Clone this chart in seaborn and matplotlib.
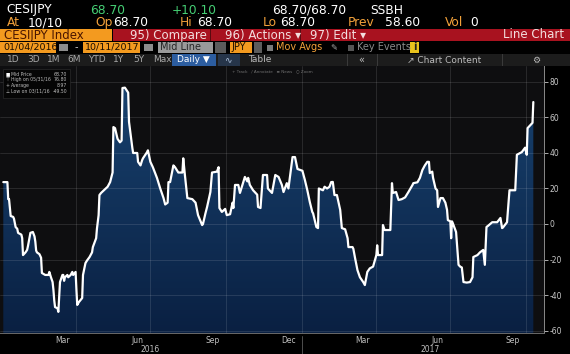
#!/usr/bin/env python3
"""Bloomberg style line chart of the Citi Economic Surprise Index, Japan (CESIJPY)."""

import matplotlib
matplotlib.use("Agg")
import matplotlib.pyplot as plt
import matplotlib.dates as mdates
import matplotlib.transforms as mtransforms
from matplotlib.colors import LinearSegmentedColormap
from matplotlib.patches import Rectangle
import numpy as np
import pandas as pd
import seaborn as sns

####################################################################################################
# DATA

dates = [
    "2016-01-04", "2016-01-09", "2016-01-10", "2016-01-11", "2016-01-13", "2016-01-16", "2016-01-17", "2016-01-19", "2016-01-21", "2016-01-22",
    "2016-01-26", "2016-01-27", "2016-01-28", "2016-01-31", "2016-02-02", "2016-02-03", "2016-02-06", "2016-02-09", "2016-02-11", "2016-02-12",
    "2016-02-13", "2016-02-14", "2016-02-17", "2016-02-19", "2016-02-20", "2016-02-24", "2016-02-28", "2016-02-29", "2016-03-02", "2016-03-04",
    "2016-03-05", "2016-03-06", "2016-03-07", "2016-03-10", "2016-03-11", "2016-03-13", "2016-03-16", "2016-03-17", "2016-03-18", "2016-03-19",
    "2016-03-22", "2016-03-23", "2016-03-26", "2016-03-28", "2016-03-29", "2016-04-01", "2016-04-02", "2016-04-03", "2016-04-05", "2016-04-09",
    "2016-04-10", "2016-04-13", "2016-04-15", "2016-04-18", "2016-04-21", "2016-04-22", "2016-04-26", "2016-04-27", "2016-04-29", "2016-04-30",
    "2016-05-02", "2016-05-05", "2016-05-10", "2016-05-13", "2016-05-16", "2016-05-17", "2016-05-19", "2016-05-22", "2016-05-25", "2016-05-27",
    "2016-05-28", "2016-05-31", "2016-06-04", "2016-06-05", "2016-06-09", "2016-06-10", "2016-06-15", "2016-06-16", "2016-06-19", "2016-06-21",
    "2016-06-22", "2016-06-27", "2016-06-28", "2016-07-01", "2016-07-04", "2016-07-09", "2016-07-13", "2016-07-17", "2016-07-19", "2016-07-22",
    "2016-07-23", "2016-07-25", "2016-07-29", "2016-07-31", "2016-08-04", "2016-08-09", "2016-08-10", "2016-08-12", "2016-08-15", "2016-08-21",
    "2016-08-25", "2016-08-28", "2016-09-02", "2016-09-03", "2016-09-06", "2016-09-08", "2016-09-12", "2016-09-14", "2016-09-20", "2016-09-22",
    "2016-09-23", "2016-09-26", "2016-09-30", "2016-10-02", "2016-10-06", "2016-10-09", "2016-10-10", "2016-10-12", "2016-10-16", "2016-10-18",
    "2016-10-21", "2016-10-24", "2016-10-27", "2016-10-28", "2016-10-30", "2016-11-03", "2016-11-08", "2016-11-09", "2016-11-12", "2016-11-15",
    "2016-11-20", "2016-11-21", "2016-11-26", "2016-11-30", "2016-12-04", "2016-12-08", "2016-12-10", "2016-12-14", "2016-12-16", "2016-12-21",
    "2016-12-24", "2016-12-27", "2017-01-02", "2017-01-05", "2017-01-08", "2017-01-11", "2017-01-14", "2017-01-15", "2017-01-19", "2017-01-21",
    "2017-01-22", "2017-01-27", "2017-01-29", "2017-02-01", "2017-02-04", "2017-02-06", "2017-02-08", "2017-02-10", "2017-02-13", "2017-02-17",
    "2017-02-19", "2017-02-23", "2017-02-26", "2017-02-27", "2017-03-04", "2017-03-05", "2017-03-07", "2017-03-10", "2017-03-13", "2017-03-17",
    "2017-03-19", "2017-03-22", "2017-03-25", "2017-03-29", "2017-04-02", "2017-04-03", "2017-04-04", "2017-04-09", "2017-04-10", "2017-04-12",
    "2017-04-19", "2017-04-21", "2017-04-22", "2017-04-26", "2017-04-29", "2017-05-03", "2017-05-07", "2017-05-11", "2017-05-16", "2017-05-17",
    "2017-05-22", "2017-05-25", "2017-05-28", "2017-05-31", "2017-06-03", "2017-06-05", "2017-06-06", "2017-06-09", "2017-06-10", "2017-06-13",
    "2017-06-15", "2017-06-16", "2017-06-19", "2017-06-22", "2017-06-25", "2017-06-27", "2017-06-28", "2017-07-01", "2017-07-02", "2017-07-03",
    "2017-07-04", "2017-07-08", "2017-07-11", "2017-07-13", "2017-07-15", "2017-07-17", "2017-07-21", "2017-07-25", "2017-07-28", "2017-07-29",
    "2017-08-03", "2017-08-06", "2017-08-10", "2017-08-12", "2017-08-14", "2017-08-16", "2017-08-21", "2017-08-27", "2017-08-31", "2017-09-02",
    "2017-09-03", "2017-09-08", "2017-09-10", "2017-09-11", "2017-09-18", "2017-09-20", "2017-09-26", "2017-09-30", "2017-10-02", "2017-10-03",
    "2017-10-07", "2017-10-09", "2017-10-10",
]

values = [
    23.6, 23.6, 14, 14, 4.5, 4, 3, -1.7, -2.7, -5,
    -6, -8, -17.5, -16, -14.6, -12.5, -5, -4.5, -7, -10,
    -15, -16, -17, -19, -27.6, -28.7, -28.7, -27, -30, -32.7,
    -37, -43, -46.8, -47.5, -49.5, -32.7, -28.7, -28.7, -32, -30,
    -28.7, -30, -28.7, -27, -28.7, -27, -37, -45.6, -44, -41.7,
    -28.7, -22, -20.5, -18.6, -16, -13, -8, -2.5, 5, 16.3,
    17.5, 18.8, 21, 23.6, 29, 54.6, 54, 48, 46, 47,
    76.6, 76.8, 74, 57.5, 43, 40, 40, 35, 33, 36,
    37, 40.5, 41.5, 35, 32, 26, 20, 14.6, 11, 12,
    23.6, 23.6, 33, 32, 29, 29, 37, 27.6, 14.6, 14,
    12, 5, -0.6, 0, 6, 9.6, 18, 29, 29.5, 32,
    9, 6.8, 8.5, 5, 5.5, 12, 9, 22, 22, 17.5,
    22, 26.5, 24, 26, 22, 19, 16.5, 9.6, 9, 27.6,
    27.6, 20, 17.5, 27.6, 26.5, 22, 18, 23, 20, 37.7,
    37.7, 31, 30, 24.8, 19, 12.4, 6.8, 6, -1.7, -2.3,
    20, 19, 21, 20, 21, 23.6, 23.7, 16.3, 16.3, 7.9,
    -2.3, -3, -8, -13, -13, -14, -19, -26, -30, -32.7,
    -34.4, -27, -25, -24, -17.5, -12, -17.5, -17.5, -0.6, -3.4,
    -3.4, 23, 17.5, 18, 13.5, 14, 15, 18, 22, 23,
    23.5, 26, 30.4, 33, 35, 35, 28.7, 29.5, 26, 20,
    19, 9.6, 14.6, 14.6, 12, 8, 2.2, 1.5, -8, 1.5,
    0.5, -4.5, -23, -24, -24.5, -32.7, -33, -32.7, -30, -18.6,
    -17.5, -16, -14.6, -23, -1.7, -1, 1, 1, 3.4, -2.3,
    -2, 1, 13.5, 19, 19, 39, 40.5, 43, 39, 54,
    56, 57, 68.7,
]

last_value = "68.70"

# axis ticks / labels
y_ticks = [-60, -40, -20, 0, 20, 40, 60, 80]
month_tick_dates = ["2016-03-16", "2016-06-15", "2016-09-15", "2016-12-16",
                    "2017-03-16", "2017-06-15", "2017-09-15"]
month_labels = ["Mar", "Jun", "Sep", "Dec", "Mar", "Jun", "Sep"]
year_label_dates = ["2016-07-01", "2017-06-07"]
year_labels = ["2016", "2017"]
year_split = "2017-01-01"
grid_dates = ["2016-04-01", "2016-07-01", "2016-10-01", "2017-01-01",
              "2017-04-01", "2017-07-01", "2017-10-01"]

# legend box
legend_keys = ["Mid Price", "High on 05/31/16", "Average", "Low on 03/11/16"]
legend_marks = ["\u25a0", "\u22a4", "+", "\u22a5"]
legend_vals = ["68.70", "76.80", "8.97", "-49.50"]

# colours
BG = "#000000"
PLOT_BG = "#0e0e10"
AMBER = "#f2a13a"
GREEN = "#45cf74"
RED_BAR = "#a8121f"
ORANGE_BOX = "#f39a1f"

####################################################################################################

sns.set_theme(style="dark")
plt.rcParams["font.family"] = ["DejaVu Sans"]
plt.rcParams["axes.unicode_minus"] = False

W, H = 570, 354
fig = plt.figure(figsize=(W / 100, H / 100), dpi=100, facecolor=BG)


def fx(x):
    return x / W


def fy(y):
    return 1 - y / H


def box(x0, y0, x1, y1, color, z=1, edge=None):
    fig.add_artist(Rectangle((fx(x0), fy(y1)), (x1 - x0) / W, (y1 - y0) / H,
                             transform=fig.transFigure, facecolor=color,
                             edgecolor=edge if edge else "none", lw=0.5, zorder=z))


def label(x, y, s, color, size, ha="left", weight="normal", z=5):
    fig.text(fx(x), fy(y), s, color=color, fontsize=size, ha=ha, va="center",
             weight=weight, zorder=z)


# HEADER ROW 1 + 2
label(6, 10, "CESIJPY", "white", 8.8)
label(90, 10, "68.70", GREEN, 8.8)
label(172, 10, "+10.10", GREEN, 8.8)
label(272, 10, "68.70/68.70", "white", 8.8)
label(370, 10, "SSBH", "white", 8.8)

for x, s, c in [(7, "At", AMBER), (28, "10/10", "white"), (95, "Op", AMBER), (113, "68.70", "white"),
                (180, "Hi", AMBER), (197, "68.70", "white"), (263, "Lo", AMBER), (280, "68.70", "white"),
                (348, "Prev", AMBER), (385, "58.60", "white"), (445, "Vol", AMBER), (470, "0", "white")]:
    label(x, 22.5, s, c, 8.8)

# HEADER ROW 3 (red command bar)
box(0, 29, 112, 41, ORANGE_BOX)
box(113, 29, 570, 41, RED_BAR)
for xs in [210, 300]:
    box(xs, 29, xs + 1, 41, "#5a0a10", z=2)
label(4, 35, "CESIJPY Index", "#4a1500", 8.5)
label(130, 35, "95) Compare", "#f3dede", 8.5)
label(225, 35, "96) Actions \u25be", "#f3dede", 8.5)
label(310, 35, "97) Edit \u25be", "#f3dede", 8.5)
label(564, 35, "Line Chart", "#f3dede", 8.5, ha="right")

# HEADER ROW 4 (date range / options)
box(0, 42, 56, 53, ORANGE_BOX)
box(59, 44, 68, 51, "#8c8c8c")
label(75, 47.5, "-", "#cccccc", 7)
box(83, 42, 140, 53, ORANGE_BOX)
box(144, 44, 153, 51, "#8c8c8c")
box(158, 42, 213, 53, "#9a9a9a")
box(215, 42, 226, 53, "#5c5c5c")
box(230, 42, 252, 53, ORANGE_BOX)
box(254, 42, 262, 53, "#5c5c5c")
box(267, 45, 273, 51, "#7a7a7a")
box(348, 45, 354, 51, "#555555")
box(410, 42, 419, 53, "#e8c21c")
label(3, 47.5, "01/04/2016", "#1a0d00", 6.8)
label(85, 47.5, "10/11/2017", "#1a0d00", 6.8)
label(160, 47.5, "Mid Line", "#262626", 7)
label(231, 47.5, "JPY", "#1a0d00", 7)
label(276, 47.5, "Mov Avgs", AMBER, 7)
label(330, 47.5, "\u270e", "#aaaaaa", 6)
label(357, 47.5, "Key Events", "#8a8a8a", 7)
label(414.5, 47.5, "i", "#222222", 7, ha="center", weight="bold")

# HEADER ROW 5 (period buttons)
box(0, 54, 570, 66, "#1c1c1c")
box(172, 54, 216, 66, "#2c5da0")
box(218, 54, 240, 66, "#26354a")
box(347, 54, 348, 66, "#3a3a3a", z=2)
box(377, 54, 378, 66, "#3a3a3a", z=2)
box(502, 54, 503, 66, "#3a3a3a", z=2)
for x, s in [(7, "1D"), (27, "3D"), (47, "1M"), (67, "6M"), (88, "YTD"), (113, "1Y"), (133, "5Y"), (153, "Max")]:
    label(x, 60, s, "#a8a8a8", 6.5)
label(177, 60, "Daily \u25bc", "white", 6.5)
label(224, 60, "\u223f", "#b0c4de", 6.5)
label(248, 60, "Table", "#bbbbbb", 6.5)
label(358, 60, "\u00ab", "#bbbbbb", 7)
label(407, 60, "\u2197 Chart Content", "#bbbbbb", 6.5)
label(536, 60, "\u2699", "#bbbbbb", 6.5, ha="center")

# CHART
df = pd.DataFrame({"date": pd.to_datetime(dates), "value": values})
y_low, y_high = -61.4, 89
x_low, x_high = pd.Timestamp("2015-12-31"), pd.Timestamp("2017-10-23")

ax = fig.add_axes([0, fy(333), fx(544), (333 - 66) / H])
ax.set_facecolor(PLOT_BG)

# gradient area under the line
poly = ax.fill_between(df["date"], df["value"], y_low, facecolor="none", lw=0)
cmap = LinearSegmentedColormap.from_list("fill", ["#0a2042", "#18426f"])
grad = np.linspace(1, 0, 256).reshape(-1, 1)
im = ax.imshow(grad, cmap=cmap, aspect="auto", origin="upper", zorder=1,
               extent=[mdates.date2num(df["date"].min()), mdates.date2num(df["date"].max()), y_low, 80])
im.set_clip_path(poly.get_paths()[0], transform=ax.transData)

sns.lineplot(data=df, x="date", y="value", ax=ax, color="white", lw=1.6, zorder=4)

# grid
for v in y_ticks:
    ax.axhline(v, color="white", alpha=0.13, lw=0.6, zorder=2)
for d in grid_dates:
    ax.axvline(pd.Timestamp(d), color="white", alpha=0.13, lw=0.6, zorder=2)

ax.set_xlim(x_low, x_high)
ax.set_ylim(y_low, y_high)
ax.set_xlabel(None)
ax.set_ylabel(None)
ax.set_title(None)

# y axis on the right
ax.yaxis.tick_right()
ax.set_yticks(y_ticks)
ax.set_yticklabels([str(v) for v in y_ticks])
ax.tick_params(axis="y", colors="#c8c8c8", labelsize=5.5, length=3, width=0.6, pad=1, direction="out")
for side in ["top", "left"]:
    ax.spines[side].set_visible(False)
ax.spines["right"].set_color("#8a8a8a")
ax.spines["right"].set_linewidth(0.7)
ax.spines["bottom"].set_color("#6a6a6a")
ax.spines["bottom"].set_linewidth(0.7)

# x axis: month labels mid-month, monthly minor ticks
ax.set_xticks(pd.to_datetime(month_tick_dates))
ax.set_xticklabels(month_labels)
ax.tick_params(axis="x", which="major", colors="#c0c0c0", labelsize=5.5, length=0, pad=2.5)
ax.xaxis.set_minor_locator(mdates.MonthLocator())
ax.tick_params(axis="x", which="minor", color="#9a9a9a", length=2, width=0.5, direction="in")

trans = mtransforms.blended_transform_factory(ax.transData, ax.transAxes)
for d, s in zip(year_label_dates, year_labels):
    ax.text(pd.Timestamp(d), -0.06, s, transform=trans, color="#c0c0c0", fontsize=5.5,
            ha="center", va="center", clip_on=False)
ax.plot([pd.Timestamp(year_split)] * 2, [-0.01, -0.08], transform=trans, color="#5a5a5a",
        lw=0.6, clip_on=False)

# last value tag
ax.annotate(last_value, xy=(1.0, float(last_value)), xycoords=trans, xytext=(4, 0),
            textcoords="offset points", fontsize=5.5, color="black", va="center", ha="left",
            bbox=dict(boxstyle="square,pad=0.15", fc="white", ec="none"), annotation_clip=False)

# legend box (top-left)
box(3, 69, 70, 98, "#050505", z=6, edge="#2a2a2a")
for i, (m, k, v) in enumerate(zip(legend_marks, legend_keys, legend_vals)):
    yy = 74 + i * 5.8
    label(6, yy, m, "white" if i == 0 else "#bbbbbb", 3.3, z=7)
    label(11, yy, k, "#bbbbbb", 3.3, z=7)
    label(67, yy, v, "#bbbbbb", 3.3, ha="right", z=7)

# tiny chart toolbar
label(232, 71, "+ Track   \u2215 Annotate   \u2261 News   \u25cb Zoom", "#707070", 3)

fig.savefig("out.png", dpi=100, facecolor=BG)
